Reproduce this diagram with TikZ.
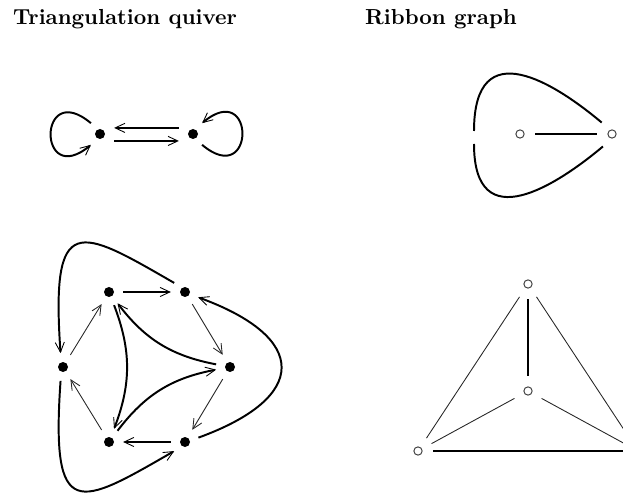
\documentclass[tikz,border=0pt]{standalone}
\usetikzlibrary{arrows.meta}
\begin{document}
\begin{tikzpicture}[
  x=0.46pt, y=0.46pt,
  dot/.style={circle, fill=black, inner sep=0pt, minimum size=4.6pt, outer sep=4.2pt},
  ring/.style={circle, draw=black!75, line width=0.45pt, inner sep=0pt, minimum size=3.8pt, outer sep=5.2pt},
  thickarc/.style={line width=0.9pt},
  thinarc/.style={line width=0.4pt, black!85},
  title/.style={font=\bfseries, anchor=base},
  >={Straight Barb[length=4.5pt,width=4.2pt,line width=0.4pt]}
]
  \useasboundingbox (0,0) rectangle (623,-494);
  \clip (0,0) rectangle (623,-494);

  % Titles
  \node[title] (tq) at (125,-25) {Triangulation quiver};
  \node[title] (tr) at (441,-25) {Ribbon graph};

  % Small quiver
  \node[dot] (q1) at (100,-134) {};
  \node[dot] (q2) at (193,-134) {};
  \draw[thickarc,->] ([yshift=2.8pt]q2.west) -- ([yshift=2.8pt]q1.east);
  \draw[thickarc,->] ([yshift=-3.2pt]q1.east) -- ([yshift=-3.2pt]q2.west);
  \draw[thickarc,->] (q1.130) .. controls +(140:70) and +(220:70) .. (q1.230);
  \draw[thickarc,->] (q2.-50) .. controls +(-40:70) and +(40:70) .. (q2.50);

  % Small ribbon graph
  \node[ring] (r1) at (520,-134) {};
  \node[ring] (r2) at (612,-134) {};
  \coordinate (gapT) at (474,-131);
  \coordinate (gapB) at (474,-144);
  \draw[thickarc] (r1) -- (r2);
  \draw[thickarc] (r2.132) .. controls +(140:60) and +(90:100) .. (gapT);
  \draw[thickarc] (gapB) .. controls +(-90:95) and +(-140:60) .. (r2.-126);

  % Big quiver
  \node[dot] (A) at (109,-292) {};
  \node[dot] (B) at (185,-292) {};
  \node[dot] (C) at (230,-367) {};
  \node[dot] (D) at (185,-442) {};
  \node[dot] (E) at (109,-442) {};
  \node[dot] (F) at (63,-367) {};

  \draw[thickarc,->] (A) -- (B);
  \draw[thinarc,->] (B) -- (C);
  \draw[thinarc,->] (C) -- (D);
  \draw[thickarc,->] (D) -- (E);
  \draw[thinarc,->] (E) -- (F);
  \draw[thinarc,->] (F) -- (A);

  \draw[thickarc,->] (A) to[bend left=21] (E);
  \draw[thickarc,->] (E) to[bend left=21] (C);
  \draw[thickarc,->] (C) to[bend left=21] (A);

  \draw[thickarc,->] (B.140) .. controls +(150:110) and +(94:143) .. (F.100);
  \draw[thickarc,->] (F.260) .. controls +(266:143) and +(210:110) .. (D.220);
  \draw[thickarc,->] (D.18) .. controls +(20:118) and +(-20:118) .. (B.-22);

  % Big ribbon graph
  \node[ring] (T) at (528,-284) {};
  \node[ring] (M) at (528,-391) {};
  \node[ring] (L) at (418,-451) {};
  \node[ring] (R) at (638,-451) {};
  \draw[thickarc] (T) -- (M);
  \draw[thickarc] (L) -- (R);
  \draw[thinarc] (T) -- (L);
  \draw[thinarc] (T) -- (R);
  \draw[thinarc] (M) -- (L);
  \draw[thinarc] (M) -- (R);
\end{tikzpicture}
\end{document}
